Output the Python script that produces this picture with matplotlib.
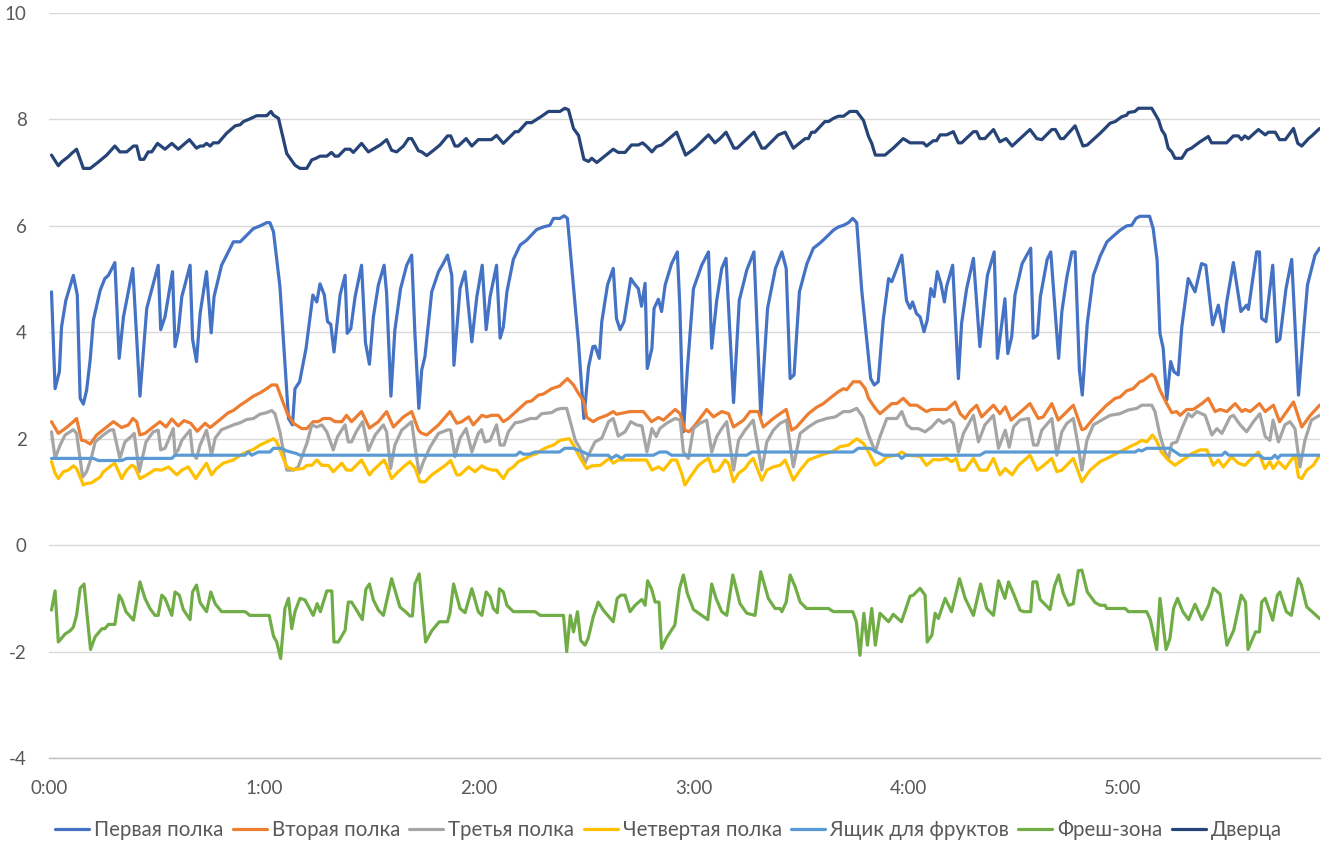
import matplotlib
matplotlib.use("Agg")
import matplotlib.pyplot as plt
from matplotlib.ticker import FixedLocator

plt.rcParams['font.family'] = ['Lato', 'DejaVu Sans']

# (minute, value) vertices
shelf1 = [(0.7,4.76),(1.7,2.94),(2.9,3.26),(3.5,4.1),(4.7,4.6),(6.8,5.07),(7.9,4.7),(8.7,2.76),(9.6,2.65),(10.5,2.91),
          (11.5,3.48),(12.4,4.23),(14.3,4.79),(15.6,5.01),(16.6,5.07),(18.4,5.31),(19.6,3.51),(20.8,4.29),(23.4,5.2),(25.4,2.8),
          (27.3,4.45),(30.5,5.26),(31.2,4.05),(32.4,4.29),(34.5,5.14),(35.2,3.73),(36.1,4.01),(37.1,4.67),(39.4,5.26),(40.1,3.87),
          (41.2,3.45),(42.2,4.35),(44.0,5.14),(45.3,3.99),(46.1,4.67),(48.2,5.26),(51.5,5.7),(53.4,5.7),(57.1,5.95),(59.0,6.0),
          (60.8,6.06),(61.7,6.06),(62.7,5.89),(64.5,4.86),(66.9,2.38),(68.0,2.26),(68.7,2.94),(70.0,3.07),(71.8,3.7),(73.7,4.7),
          (74.8,4.57),(75.7,4.91),(76.9,4.7),(77.8,4.2),(78.7,4.15),(79.6,3.63),(81.3,4.7),(82.7,5.07),(83.3,3.98),(84.3,4.07),
          (85.5,4.67),(87.3,5.26),(88.4,3.8),(89.5,3.4),(90.6,4.29),(92.0,4.89),(93.6,5.26),(94.3,4.73),(95.5,2.8),(96.6,4.04),
          (98.2,4.82),(99.9,5.26),(101.3,5.45),(102.2,3.98),(103.3,2.57),(104.1,3.29),(105.0,3.54),(106.9,4.76),(108.8,5.14),(110.1,5.29),
          (111.3,5.45),(112.5,5.07),(113.1,3.38),(114.8,4.82),(116.2,5.14),(118.1,3.82),(119.5,4.67),(121.0,5.26),(122.1,4.05),(123.2,4.67),
          (125.0,5.26),(126.0,3.89),(126.9,4.1),(127.9,4.76),(129.7,5.37),(131.6,5.64),(133.4,5.73),(136.2,5.93),(138.1,5.98),(139.9,6.01),
          (140.9,6.14),(142.7,6.14),(143.9,6.19),(144.8,6.14),(146.0,5.23),(147.9,3.79),(149.4,2.38),(150.7,3.35),(151.9,3.73),(152.5,3.74),
          (153.7,3.51),(154.4,4.2),(156.0,4.89),(157.6,5.2),(158.5,4.26),(159.5,4.05),(160.6,4.2),(162.5,5.01),(163.4,4.92),(164.6,4.82),
          (165.5,4.49),(166.5,4.92),(167.1,3.32),(168.4,3.7),(169.0,4.45),(170.2,4.62),(171.1,4.39),(172.1,4.89),(173.9,5.29),(175.5,5.51),
          (176.2,4.48),(177.2,2.13),(178.3,3.3),(180.0,4.82),(182.3,5.26),(184.2,5.51),(185.1,3.7),(186.5,4.6),(187.9,5.2),(189.1,5.39),
          (191.2,2.68),(192.8,4.6),(194.9,5.17),(196.9,5.51),(198.8,2.44),(200.7,4.45),(202.9,5.2),(204.7,5.51),(205.9,5.2),(207.0,3.13),
          (208.1,3.2),(209.6,4.76),(211.7,5.29),(213.5,5.58),(215.4,5.68),(217.3,5.8),(219.1,5.92),(220.5,5.98),(221.9,6.01),(223.3,6.06),
          (224.5,6.14),(225.6,6.06),(227.0,4.79),(229.5,3.13),(230.5,3.01),(231.6,3.07),(233.0,4.23),(234.5,5.01),(235.4,4.95),(238.2,5.45),
          (239.5,4.6),(240.5,4.45),(241.2,4.57),(242.3,4.35),(243.3,4.29),(244.4,4.01),(245.3,4.23),(246.3,4.82),(247.2,4.67),(248.1,5.14),
          (249.1,4.92),(250.1,4.57),(250.7,4.86),(252.4,5.26),(254.0,3.13),(254.9,4.17),(256.3,4.82),(258.2,5.39),(260.0,3.73),(262.1,5.07),
          (264.0,5.51),(264.9,3.51),(267.0,4.63),(267.8,3.6),(268.9,3.92),(269.8,4.7),(271.8,5.29),(273.1,5.45),(274.2,5.58),(274.9,3.89),
          (276.1,3.95),(276.9,4.67),(278.8,5.37),(279.8,5.51),(282.0,3.51),(282.9,4.39),(284.3,5.04),(285.7,5.51),(286.6,5.51),(287.8,3.29),
          (288.6,2.82),(290.0,4.17),(291.7,5.07),(293.6,5.43),(295.5,5.7),(297.3,5.81),(299.2,5.92),(301.0,6.0),(302.4,6.01),(303.6,6.14),
          (304.7,6.18),(307.4,6.18),(308.4,5.95),(309.5,5.36),(310.3,3.98),(311.2,3.7),(312.2,2.73),(313.3,3.45),(314.2,3.26),(315.4,3.2),
          (316.4,4.1),(318.2,5.01),(320.1,4.76),(321.9,5.29),(323.1,5.26),(325.0,4.14),(326.6,4.51),(328.0,4.01),(328.9,4.55),(330.8,5.31),
          (332.9,4.39),(334.5,4.51),(335.0,4.43),(337.3,5.51),(338.1,5.51),(338.7,4.26),(339.9,4.2),(341.8,5.26),(342.9,3.82),(343.8,3.87),
          (345.5,4.82),(347.1,5.37),(349.0,2.82),(350.4,4.01),(351.5,4.89),(353.6,5.45),(354.9,5.58)]

shelf2 = [(0.7,2.32),(2.6,2.1),(4.5,2.19),(6.8,2.32),(7.7,2.38),(9.1,1.97),(10.0,1.96),(11.5,1.9),(13.3,2.07),(15.2,2.17),
          (18.0,2.32),(20.3,2.21),(22.2,2.26),(23.4,2.38),(24.5,2.32),(25.4,2.07),(26.8,2.1),(29.1,2.22),(31.0,2.32),(32.7,2.22),
          (34.3,2.37),(36.1,2.24),(37.7,2.34),(39.6,2.29),(41.4,2.14),(43.6,2.29),(45.0,2.21),(47.8,2.36),(50.1,2.49),(51.5,2.53),
          (53.4,2.63),(55.2,2.71),(57.1,2.8),(58.9,2.86),(60.8,2.94),(62.2,3.01),(63.6,3.01),(65.5,2.66),(66.6,2.47),(68.3,2.29),
          (70.6,2.19),(72.0,2.19),(73.8,2.32),(75.2,2.32),(76.6,2.38),(78.5,2.38),(79.9,2.32),(81.8,2.32),(83.1,2.44),(84.5,2.32),
          (87.3,2.51),(89.5,2.2),(92.0,2.32),(94.3,2.51),(96.2,2.22),(99.0,2.41),(101.3,2.51),(103.2,2.16),(103.9,2.11),(105.5,2.07),
          (108.8,2.26),(112.0,2.51),(113.9,2.29),(115.3,2.32),(117.2,2.41),(118.5,2.26),(120.9,2.44),(122.2,2.41),(123.6,2.44),(125.5,2.44),
          (126.9,2.32),(128.3,2.38),(131.1,2.55),(133.4,2.69),(134.8,2.71),(136.7,2.82),(138.1,2.84),(140.4,2.94),(142.6,2.99),(144.8,3.13),
          (146.5,3.01),(147.9,2.85),(149.3,2.71),(150.2,2.4),(152.0,2.32),(153.4,2.38),(155.8,2.44),(157.6,2.51),(158.5,2.46),(162.3,2.51),
          (166.0,2.51),(168.3,2.32),(170.2,2.4),(171.6,2.35),(174.9,2.55),(176.3,2.47),(177.6,2.16),(178.8,2.13),(180.5,2.26),(183.7,2.55),
          (185.6,2.41),(187.9,2.51),(189.8,2.47),(191.2,2.22),(194.0,2.35),(195.8,2.51),(198.1,2.51),(199.5,2.22),(202.3,2.38),(205.9,2.55),
          (207.4,2.16),(208.8,2.22),(212.1,2.47),(214.4,2.59),(216.3,2.66),(218.1,2.76),(220.4,2.88),(221.9,2.94),(222.8,2.92),(224.6,3.07),
          (226.5,3.07),(228.0,2.94),(228.9,2.76),(230.8,2.57),(232.1,2.47),(235.4,2.66),(236.8,2.66),(238.6,2.76),(240.5,2.63),(242.4,2.63),
          (243.7,2.57),(245.1,2.51),(246.5,2.55),(250.7,2.55),(253.1,2.69),(254.5,2.47),(255.9,2.38),(257.2,2.51),(259.1,2.63),(260.5,2.41),
          (263.8,2.63),(265.6,2.47),(267.1,2.6),(268.7,2.35),(270.8,2.47),(274.0,2.66),(276.3,2.38),(277.7,2.41),(280.1,2.66),(281.9,2.35),
          (286.1,2.63),(288.5,2.17),(289.4,2.19),(291.7,2.38),(295.4,2.63),(297.8,2.76),(299.1,2.78),(301.0,2.9),(302.8,2.94),(304.7,3.07),
          (305.6,3.09),(308.0,3.21),(308.9,3.16),(310.3,2.91),(312.2,2.66),(313.6,2.49),(315.0,2.51),(315.9,2.44),(317.8,2.55),(319.6,2.55),
          (322.0,2.66),(323.8,2.76),(325.7,2.51),(327.1,2.55),(329.0,2.51),(331.3,2.66),(333.2,2.51),(334.1,2.55),(335.5,2.51),(338.1,2.66),
          (339.7,2.51),(342.0,2.63),(343.7,2.32),(347.6,2.69),(349.9,2.22),(352.3,2.44),(354.9,2.63)]

shelf3 = [(0.7,2.13),(1.7,1.63),(3.1,1.88),(4.5,2.07),(6.8,2.17),(7.7,2.1),(9.4,1.28),(10.5,1.38),(11.9,1.66),(12.9,1.94),
          (14.8,2.05),(17.0,2.16),(18.0,2.17),(19.8,1.63),(21.2,1.94),(23.1,2.05),(23.8,2.1),(25.2,1.38),(27.1,1.94),(29.1,2.13),
          (30.5,2.16),(31.2,1.79),(32.4,1.82),(34.7,2.19),(35.2,1.72),(36.1,1.79),(37.1,1.97),(39.4,2.16),(40.1,1.72),(41.2,1.63),
          (42.2,1.88),(44.0,2.16),(45.4,1.69),(46.4,2.01),(48.2,2.17),(50.1,2.22),(51.5,2.26),(53.4,2.3),(55.2,2.36),(57.1,2.38),
          (58.9,2.46),(60.8,2.49),(62.2,2.53),(63.1,2.47),(64.5,2.13),(66.4,1.41),(68.3,1.41),(69.6,1.47),(72.0,1.91),(73.4,2.26),
          (74.8,2.22),(76.2,2.26),(77.6,2.13),(79.4,1.79),(80.6,2.04),(82.7,2.26),(83.6,1.94),(84.5,1.94),(85.8,2.13),(87.6,2.32),
          (89.2,1.78),(91.1,2.07),(93.4,2.26),(94.3,2.13),(95.4,1.44),(96.6,1.88),(98.5,2.16),(101.3,2.32),(102.3,1.82),(103.4,1.35),
          (104.6,1.57),(106.5,1.85),(108.8,2.1),(111.5,2.17),(112.2,2.16),(113.4,1.66),(114.8,2.01),(116.5,2.19),(118.1,1.75),(119.9,2.1),
          (120.8,2.17),(121.8,1.94),(123.2,1.97),(125.0,2.26),(126.0,1.88),(127.1,1.88),(128.3,2.13),(130.2,2.3),(132.0,2.32),(134.4,2.38),
          (136.2,2.38),(137.6,2.47),(140.4,2.49),(141.8,2.55),(143.2,2.57),(144.6,2.57),(146.0,2.22),(147.0,1.97),(148.3,1.82),(149.7,1.54),
          (151.1,1.75),(152.5,1.94),(154.4,2.01),(156.3,2.32),(157.6,2.38),(159.0,2.05),(160.9,2.13),(162.5,2.32),(164.1,2.26),(165.6,2.24),
          (167.0,1.75),(168.4,2.19),(169.6,2.04),(170.6,2.19),(172.5,2.29),(174.9,2.38),(176.3,2.35),(177.2,1.75),(178.6,1.63),(180.0,2.19),
          (181.8,2.29),(183.7,2.35),(185.1,1.75),(186.5,2.04),(187.9,2.19),(189.3,2.32),(191.2,1.41),(192.6,1.97),(194.4,2.16),(196.7,2.35),
          (199.1,1.41),(200.5,1.94),(202.3,2.16),(204.2,2.29),(206.0,2.35),(207.9,1.47),(209.8,2.1),(212.1,2.22),(214.4,2.32),(217.2,2.38),
          (219.6,2.41),(221.9,2.51),(223.7,2.51),(225.6,2.57),(227.3,2.41),(228.9,2.07),(230.8,1.75),(232.1,2.04),(234.0,2.38),(236.8,2.38),
          (238.2,2.51),(239.6,2.26),(240.9,2.19),(242.8,2.19),(244.7,2.13),(246.5,2.22),(248.4,2.36),(249.8,2.29),(251.5,2.36),(252.6,2.29),
          (254.0,1.75),(255.4,2.1),(258.2,2.44),(259.6,1.94),(261.4,2.26),(263.8,2.44),(265.2,1.82),(267.1,2.16),(268.2,1.84),(269.4,2.22),
          (271.2,2.35),(273.6,2.38),(275.0,1.88),(276.1,1.88),(277.3,2.16),(280.1,2.38),(281.5,1.69),(282.9,2.13),(284.3,2.29),(286.1,2.38),
          (287.5,1.85),(288.5,1.41),(289.9,1.97),(291.7,2.26),(294.0,2.35),(296.4,2.44),(299.1,2.47),(301.5,2.54),(303.8,2.57),(305.2,2.63),
          (308.0,2.63),(308.9,2.51),(310.3,2.07),(311.7,1.75),(312.7,1.63),(313.6,1.91),(315.0,1.94),(316.4,2.19),(318.2,2.47),(319.2,2.41),
          (320.6,2.51),(322.9,2.44),(324.8,2.07),(326.2,2.19),(327.6,2.1),(329.9,2.41),(330.8,2.44),(332.7,2.26),(334.5,2.13),(336.4,2.32),
          (338.2,2.47),(339.7,2.04),(341.0,1.97),(341.9,2.35),(343.4,1.94),(345.2,2.26),(346.6,2.32),(348.0,2.19),(349.4,1.47),(350.8,1.97),
          (352.6,2.35),(354.9,2.44)]

shelf4 = [(0.7,1.57),(1.7,1.35),(2.6,1.25),(4.0,1.38),(5.4,1.41),(6.8,1.49),(7.7,1.44),(8.7,1.28),(9.6,1.13),(10.5,1.16),
          (11.9,1.17),(12.9,1.22),(14.3,1.28),(15.2,1.38),(17.5,1.5),(18.4,1.54),(20.3,1.25),(21.7,1.41),(23.1,1.5),(24.0,1.47),
          (25.4,1.25),(27.3,1.32),(29.6,1.42),(31.5,1.41),(33.4,1.47),(35.7,1.32),(37.1,1.41),(38.9,1.47),(41.0,1.25),(42.6,1.41),
          (44.0,1.54),(45.4,1.32),(46.8,1.44),(48.7,1.54),(51.5,1.6),(53.4,1.69),(55.2,1.75),(57.1,1.8),(58.9,1.88),(60.8,1.94),
          (62.7,2.0),(63.6,1.94),(64.5,1.79),(66.4,1.47),(68.3,1.42),(71.0,1.44),(72.0,1.5),(73.4,1.5),(74.8,1.6),(76.2,1.5),
          (78.0,1.5),(79.4,1.38),(81.8,1.54),(83.1,1.41),(84.5,1.41),(87.3,1.6),(89.5,1.32),(90.6,1.41),(92.0,1.5),(93.6,1.6),
          (94.3,1.5),(95.7,1.25),(97.1,1.35),(99.0,1.47),(100.8,1.57),(102.3,1.44),(103.6,1.19),(105.0,1.19),(106.9,1.32),(108.8,1.41),
          (110.7,1.5),(112.2,1.59),(113.9,1.32),(114.8,1.32),(117.2,1.47),(119.0,1.38),(120.9,1.49),(122.2,1.44),(123.9,1.41),(125.0,1.41),
          (126.9,1.25),(128.3,1.41),(129.7,1.47),(131.1,1.57),(133.0,1.63),(134.8,1.69),(136.2,1.72),(137.6,1.79),(139.5,1.85),(140.9,1.88),
          (142.7,1.97),(145.3,2.0),(146.5,1.88),(148.4,1.63),(150.2,1.44),(151.6,1.49),(154.0,1.5),(155.3,1.57),(156.5,1.63),(157.6,1.54),
          (159.0,1.6),(166.9,1.6),(168.4,1.41),(170.2,1.47),(171.6,1.41),(173.9,1.6),(175.3,1.6),(176.7,1.35),(177.6,1.13),(179.3,1.3),
          (181.4,1.5),(182.8,1.57),(184.2,1.63),(185.6,1.38),(187.0,1.41),(188.8,1.6),(189.8,1.54),(191.2,1.19),(192.6,1.35),(194.4,1.44),
          (195.4,1.54),(196.7,1.63),(199.1,1.22),(200.5,1.41),(202.3,1.47),(204.2,1.5),(205.6,1.6),(207.9,1.22),(209.8,1.41),(212.1,1.6),
          (214.4,1.66),(216.8,1.72),(218.6,1.75),(220.9,1.85),(223.3,1.88),(225.6,2.0),(227.5,1.91),(228.9,1.75),(230.8,1.5),(232.6,1.57),
          (234.0,1.66),(236.8,1.69),(238.2,1.75),(239.6,1.69),(243.3,1.67),(245.1,1.5),(247.0,1.61),(248.8,1.6),(250.7,1.63),(252.1,1.57),
          (253.4,1.63),(254.4,1.41),(255.8,1.41),(258.2,1.63),(260.0,1.41),(261.9,1.41),(263.8,1.63),(265.6,1.32),(267.1,1.44),(269.0,1.32),
          (270.8,1.5),(274.0,1.69),(276.0,1.41),(277.3,1.47),(280.1,1.63),(281.5,1.38),(282.9,1.41),(286.1,1.63),(288.5,1.19),(289.4,1.28),
          (290.8,1.41),(293.6,1.57),(295.5,1.63),(297.3,1.69),(301.0,1.82),(302.8,1.88),(303.8,1.91),(305.2,1.97),(306.6,1.94),(308.2,2.07),
          (309.3,1.97),(310.7,1.75),(312.6,1.6),(314.5,1.5),(315.9,1.57),(317.3,1.63),(319.2,1.72),(321.5,1.79),(323.4,1.79),(325.2,1.5),
          (326.6,1.6),(328.0,1.47),(330.3,1.66),(332.2,1.54),(334.0,1.5),(335.9,1.63),(337.8,1.75),(339.6,1.44),(341.0,1.57),(341.9,1.44),
          (343.4,1.57),(345.3,1.44),(346.6,1.57),(348.0,1.69),(349.0,1.28),(349.9,1.25),(351.3,1.41),(353.1,1.5),(354.9,1.69)]

fruit = [(0.7,1.63),(12.4,1.63),(13.8,1.59),(20.3,1.59),(21.7,1.63),(34.3,1.63),(35.2,1.69),(54.7,1.69),(55.7,1.75),(56.6,1.69),
         (58.5,1.75),(61.7,1.75),(62.7,1.82),(64.9,1.82),(66.4,1.77),(69.2,1.72),(70.1,1.69),(130.5,1.69),(131.5,1.75),(132.5,1.71),
         (134.3,1.71),(135.7,1.75),(142.6,1.75),(144.0,1.82),(146.4,1.82),(149.2,1.75),(151.0,1.69),(156.2,1.69),(157.1,1.63),(158.5,1.69),
         (160.0,1.63),(161.0,1.69),(168.8,1.69),(170.6,1.75),(172.5,1.75),(173.9,1.69),(194.9,1.69),(196.3,1.75),(224.6,1.75),(226.0,1.82),
         (229.3,1.82),(231.2,1.75),(233.0,1.69),(237.3,1.69),(238.2,1.63),(239.2,1.69),(260.0,1.69),(261.5,1.75),(303.4,1.75),(304.3,1.79),
         (305.2,1.77),(306.6,1.82),(313.1,1.82),(315.9,1.69),(327.6,1.69),(328.5,1.75),(329.5,1.69),(338.2,1.69),(339.2,1.63),(341.5,1.63),
         (342.4,1.69),(343.2,1.63),(344.0,1.69),(354.9,1.69)]

fresh = [(0.7,-1.22),(1.7,-0.86),(2.6,-1.82),(3.5,-1.75),(4.5,-1.67),(5.9,-1.61),(6.8,-1.54),(7.7,-1.32),(8.7,-0.81),(9.8,-0.73),
         (10.5,-1.22),(11.6,-1.96),(12.9,-1.72),(14.8,-1.57),(15.6,-1.57),(16.6,-1.49),(18.4,-1.49),(19.6,-0.94),(20.3,-1.02),(21.5,-1.25),
         (23.6,-1.41),(25.4,-0.69),(26.8,-1.0),(28.2,-1.19),(29.6,-1.32),(30.5,-1.32),(31.5,-0.94),(32.4,-1.0),(34.3,-1.32),(35.2,-0.88),
         (36.4,-0.94),(37.5,-1.21),(39.4,-1.4),(40.1,-0.88),(41.2,-0.75),(42.2,-1.08),(44.0,-1.25),(45.2,-0.88),(46.4,-1.1),(48.2,-1.25),
         (54.8,-1.25),(56.1,-1.32),(61.5,-1.32),(62.7,-1.71),(63.6,-1.82),(64.7,-2.13),(65.9,-1.19),(66.9,-1.0),(67.8,-1.57),(68.7,-1.25),
         (70.1,-1.0),(71.5,-1.03),(73.8,-1.32),(74.9,-1.1),(75.8,-1.25),(77.6,-0.86),(79.0,-0.86),(79.6,-1.82),(80.8,-1.82),(82.7,-1.6),
         (83.6,-1.07),(84.5,-1.07),(85.9,-1.22),(87.5,-1.4),(88.5,-0.83),(89.5,-0.73),(90.6,-1.03),(92.0,-1.22),(93.4,-1.32),(95.7,-0.63),
         (98.0,-1.16),(99.9,-1.27),(100.8,-1.33),(101.5,-1.33),(102.2,-0.73),(103.4,-0.54),(105.2,-1.82),(106.9,-1.61),(109.0,-1.44),(111.3,-1.44),
         (112.0,-1.27),(113.0,-0.73),(114.8,-1.19),(116.2,-1.27),(118.1,-0.82),(119.9,-1.25),(120.9,-1.32),(122.1,-0.88),(123.2,-0.97),(124.1,-1.19),
         (125.2,-1.27),(125.8,-0.82),(126.9,-0.88),(127.9,-1.13),(129.7,-1.25),(135.8,-1.25),(137.2,-1.32),(143.7,-1.32),(144.6,-2.0),(145.6,-1.32),
         (146.5,-1.63),(147.6,-1.25),(148.5,-1.79),(149.7,-1.88),(150.6,-1.75),(152.0,-1.35),(153.4,-1.07),(154.8,-1.22),(156.2,-1.33),(157.6,-1.44),
         (158.7,-1.0),(159.7,-0.94),(160.9,-0.94),(162.3,-1.25),(163.7,-1.13),(165.6,-1.02),(166.5,-1.13),(167.2,-0.67),(168.3,-0.82),(169.3,-1.07),
         (170.4,-1.07),(171.1,-1.94),(172.5,-1.74),(174.8,-1.5),(176.1,-0.82),(177.2,-0.56),(178.3,-0.91),(180.0,-1.21),(182.3,-1.32),(184.0,-1.4),
         (185.1,-0.73),(186.3,-1.0),(187.9,-1.25),(189.3,-1.32),(191.0,-0.56),(193.0,-1.1),(194.9,-1.28),(197.2,-1.32),(198.8,-0.5),(200.9,-1.0),
         (202.8,-1.19),(204.2,-1.19),(204.7,-1.25),(205.9,-1.07),(207.0,-0.56),(208.4,-0.78),(209.8,-1.07),(211.6,-1.19),(217.7,-1.19),(219.1,-1.25),
         (224.5,-1.25),(225.5,-1.44),(226.5,-2.07),(227.6,-1.28),(228.6,-1.88),(229.8,-1.19),(230.8,-1.88),(232.1,-1.28),(234.5,-1.44),(235.8,-1.3),
         (238.1,-1.44),(240.5,-0.96),(241.4,-0.94),(243.3,-0.81),(244.7,-0.94),(245.3,-1.82),(246.6,-1.69),(247.5,-1.28),(248.4,-1.38),(250.3,-1.0),
         (252.1,-1.25),(254.3,-0.63),(255.9,-1.0),(258.2,-1.32),(260.2,-0.73),(261.9,-1.19),(263.8,-1.32),(265.2,-0.67),(267.0,-1.0),(268.0,-0.69),
         (269.4,-0.91),(271.2,-1.22),(272.2,-1.25),(274.2,-1.25),(274.8,-0.69),(275.9,-0.69),(276.8,-1.02),(279.6,-1.21),(280.8,-0.78),(282.0,-0.56),
         (283.3,-0.91),(284.8,-1.13),(286.1,-1.1),(287.5,-0.48),(288.5,-0.47),(290.0,-0.88),(292.2,-1.08),(293.6,-1.13),(295.0,-1.13),(295.4,-1.19),
         (300.6,-1.19),(301.5,-1.25),(306.6,-1.25),(307.6,-1.4),(309.4,-1.96),(310.3,-1.0),(312.0,-1.96),(313.1,-1.75),(314.1,-1.19),(315.2,-1.0),
         (316.7,-1.25),(318.3,-1.4),(320.1,-1.11),(322.0,-1.4),(323.9,-1.13),(325.2,-0.81),(327.1,-0.92),(329.0,-1.88),(330.9,-1.6),(333.0,-0.94),
         (334.2,-1.07),(334.9,-1.96),(337.0,-1.63),(338.1,-1.63),(338.7,-1.07),(339.7,-1.0),(341.8,-1.41),(343.1,-0.94),(343.8,-0.88),(345.6,-1.25),
         (347.0,-1.32),(348.9,-0.63),(349.8,-0.75),(351.3,-1.16),(352.6,-1.24),(354.9,-1.38)]

door = [(0.7,7.33),(2.6,7.13),(3.5,7.2),(5.4,7.3),(6.3,7.36),(7.7,7.44),(9.6,7.08),(11.5,7.08),(13.8,7.2),(16.1,7.33),
        (18.4,7.5),(19.8,7.39),(21.7,7.39),(23.6,7.5),(24.5,7.5),(25.4,7.25),(26.5,7.25),(27.7,7.39),(28.7,7.39),(30.3,7.55),
        (32.4,7.44),(34.3,7.55),(36.1,7.44),(39.2,7.62),(41.2,7.46),(42.2,7.5),(43.1,7.5),(44.0,7.55),(45.0,7.5),(45.9,7.56),
        (47.3,7.56),(49.6,7.74),(52.0,7.88),(53.4,7.9),(54.3,7.96),(56.1,8.01),(58.0,8.07),(60.8,8.07),(62.0,8.15),(62.7,8.08),
        (64.1,8.02),(66.4,7.36),(68.7,7.14),(70.1,7.08),(72.0,7.08),(73.4,7.24),(74.6,7.27),(75.7,7.31),(77.6,7.31),(78.9,7.38),
        (79.9,7.31),(80.8,7.31),(82.7,7.44),(84.1,7.44),(85.0,7.38),(87.3,7.55),(89.2,7.39),(92.5,7.52),(94.3,7.62),(95.7,7.42),
        (97.1,7.39),(99.0,7.5),(100.4,7.64),(101.3,7.64),(103.2,7.41),(104.1,7.39),(105.5,7.32),(107.4,7.42),(109.2,7.52),(111.3,7.69),
        (112.2,7.69),(113.4,7.5),(114.3,7.5),(116.5,7.64),(118.1,7.5),(119.9,7.62),(123.6,7.62),(125.0,7.7),(126.9,7.55),(130.2,7.77),
        (131.1,7.77),(133.4,7.94),(134.8,7.94),(136.2,8.0),(137.6,8.06),(139.5,8.15),(142.7,8.15),(144.1,8.21),(145.1,8.18),(146.5,7.83),
        (147.9,7.7),(149.4,7.25),(150.7,7.21),(151.6,7.27),(153.0,7.19),(157.6,7.44),(159.0,7.38),(160.9,7.38),(162.7,7.52),(164.6,7.52),
        (165.8,7.56),(167.0,7.49),(168.4,7.39),(169.7,7.49),(171.1,7.52),(175.3,7.76),(177.8,7.33),(180.4,7.46),(184.2,7.71),(186.0,7.56),
        (187.4,7.64),(189.1,7.76),(191.3,7.46),(192.2,7.46),(196.9,7.76),(199.1,7.46),(200.0,7.46),(203.7,7.71),(205.6,7.76),(207.9,7.46),
        (211.2,7.64),(212.1,7.64),(213.0,7.76),(213.9,7.76),(216.7,7.96),(217.7,7.96),(219.1,8.02),(220.5,8.06),(221.9,8.06),(223.7,8.15),
        (225.6,8.15),(227.5,7.98),(228.9,7.68),(229.8,7.55),(230.8,7.33),(233.5,7.33),(235.8,7.46),(238.6,7.64),(240.5,7.56),(244.2,7.56),
        (245.1,7.5),(247.0,7.6),(247.9,7.6),(248.9,7.71),(250.7,7.71),(252.6,7.77),(254.0,7.56),(254.9,7.56),(258.2,7.77),(259.1,7.77),
        (260.0,7.64),(261.4,7.64),(263.8,7.81),(265.6,7.58),(267.3,7.64),(269.0,7.5),(274.0,7.81),(275.9,7.64),(277.3,7.62),(280.1,7.81),
        (281.1,7.81),(282.5,7.64),(283.4,7.64),(286.6,7.88),(288.8,7.5),(290.0,7.52),(293.6,7.74),(296.4,7.93),(297.8,7.96),(299.6,8.05),
        (301.0,8.08),(301.5,8.13),(303.3,8.15),(304.3,8.21),(308.0,8.21),(309.9,7.99),(310.8,7.8),(311.7,7.71),(312.6,7.46),(313.6,7.39),
        (314.5,7.27),(316.4,7.27),(317.8,7.42),(319.1,7.46),(321.5,7.58),(322.4,7.62),(323.8,7.68),(324.7,7.56),(328.9,7.56),(330.8,7.69),
        (332.2,7.69),(333.1,7.62),(334.0,7.69),(335.0,7.64),(337.8,7.81),(339.7,7.71),(340.6,7.76),(342.5,7.76),(343.7,7.62),(345.3,7.62),
        (347.6,7.83),(348.8,7.55),(349.9,7.5),(351.8,7.64),(352.7,7.69),(354.9,7.83)]

series_names = ["Первая полка", "Вторая полка", "Третья полка", "Четвертая полка",
                "Ящик для фруктов", "Фреш-зона", "Дверца"]
series_data = [shelf1, shelf2, shelf3, shelf4, fruit, fresh, door]
colors = ["#4472C4", "#ED7D31", "#A5A5A5", "#FFC000", "#5B9BD5", "#70AD47", "#264478"]

x_ticks = [0, 60, 120, 180, 240, 300]
x_tick_labels = ["0:00", "1:00", "2:00", "3:00", "4:00", "5:00"]
y_ticks = [-4, -2, 0, 2, 4, 6, 8, 10]

fig = plt.figure(figsize=(13.37, 8.57), dpi=100)
ax = fig.add_axes([49/1337, 1 - 758/857, (1320 - 49)/1337, (758 - 13)/857])

for name, data, c in zip(series_names, series_data, colors):
    t = [p[0] for p in data]
    v = [p[1] for p in data]
    ax.plot(t, v, color=c, lw=2.3, label=name, solid_joinstyle='round', solid_capstyle='round')

ax.set_xlim(0, 355)
ax.set_ylim(-4, 10)
ax.xaxis.set_major_locator(FixedLocator(x_ticks))
ax.set_xticklabels(x_tick_labels)
ax.set_yticks(y_ticks)
ax.set_yticklabels([str(y) for y in y_ticks])
ax.grid(axis='y', color='#D9D9D9', lw=1)
ax.set_axisbelow(True)
for s in ['top', 'right', 'left']:
    ax.spines[s].set_visible(False)
ax.spines['bottom'].set_color('#BFBFBF')
ax.spines['bottom'].set_linewidth(1)
ax.tick_params(axis='both', length=0, labelsize=13.5, colors='#595959')
ax.tick_params(axis='y', pad=16)
ax.tick_params(axis='x', pad=16)

fig.legend(loc='center', bbox_to_anchor=(0.5, 1 - 830/857), ncol=7, frameon=False,
           fontsize=14.8, handlelength=1.65, handletextpad=0.25, columnspacing=0.45,
           labelcolor='#595959')

fig.savefig("out.png", dpi=100)
